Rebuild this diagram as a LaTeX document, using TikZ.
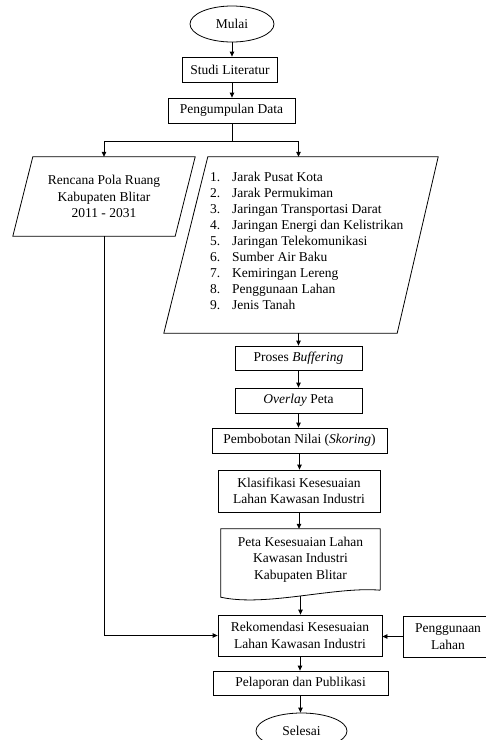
\documentclass[tikz,border=0pt]{standalone}
\usepackage{fontspec}
\setmainfont{Liberation Serif}
\usetikzlibrary{shapes.geometric,arrows.meta,calc}

\tikzstyle{kotak} = [rectangle, draw, line width=0.8pt, inner sep=2pt, align=center]
\tikzstyle{ujung} = [ellipse, draw, line width=0.8pt, inner sep=0pt]
\tikzstyle{bidang} = [rectangle, inner sep=2pt, align=center]
\tikzstyle{garis} = [line width=0.8pt]
\tikzstyle{panah} = [-{Triangle[length=5pt,width=4.5pt]}, line width=0.8pt]

\begin{document}
\begin{tikzpicture}[x=1pt,y=-1pt,font=\fontsize{13.5}{16.5}\selectfont]
\useasboundingbox (0,0) rectangle (486,740);
% alur utama
\node[ujung, minimum width=84pt, minimum height=36pt] (mulai) at (232,24) {Mulai};
\node[kotak, minimum width=95pt, minimum height=25pt] (studi) at (230,69.5) {Studi Literatur};
\node[kotak, minimum width=127pt, minimum height=25pt] (data) at (231.5,110.5) {Pengumpulan Data};
% data masukan
\node[bidang, minimum width=182pt, minimum height=79pt] (rencana) at (104,196.5) {Rencana Pola Ruang\\Kabupaten Blitar\\2011 - 2031};
\draw[garis] ($(rencana.north west)+(20,0)$) -- (rencana.north east) -- ($(rencana.south east)+(-20,0)$) -- (rencana.south west) -- cycle;
\node[bidang, minimum width=274pt, minimum height=176pt] (faktor) at (301,245) {};
\draw[garis] ($(faktor.north west)+(44,0)$) -- (faktor.north east) -- ($(faktor.south east)+(-41,0)$) -- (faktor.south west) -- cycle;
\node[anchor=west, align=left, inner sep=2pt, font=\fontsize{13.5}{16}\selectfont] (daftar) at (208,241) {%
\makebox[22pt][l]{1.}Jarak Pusat Kota\\
\makebox[22pt][l]{2.}Jarak Permukiman\\
\makebox[22pt][l]{3.}Jaringan Transportasi Darat\\
\makebox[22pt][l]{4.}Jaringan Energi dan Kelistrikan\\
\makebox[22pt][l]{5.}Jaringan Telekomunikasi\\
\makebox[22pt][l]{6.}Sumber Air Baku\\
\makebox[22pt][l]{7.}Kemiringan Lereng\\
\makebox[22pt][l]{8.}Penggunaan Lahan\\
\makebox[22pt][l]{9.}Jenis Tanah};
% proses
\node[kotak, minimum width=127pt, minimum height=24pt] (buffer) at (298.5,358) {Proses \textit{Buffering}};
\node[kotak, minimum width=127pt, minimum height=25pt] (overlay) at (298.5,400.5) {\textit{Overlay} Peta};
\node[kotak, minimum width=175pt, minimum height=25pt] (bobot) at (299.5,440.5) {Pembobotan Nilai (\textit{Skoring})};
\node[kotak, minimum width=162pt, minimum height=42pt] (klasif) at (299,491) {Klasifikasi Kesesuaian\\Lahan Kawasan Industri};
\node[bidang, minimum width=159pt, minimum height=61pt] (peta) at (300.5,559.5) {Peta Kesesuaian Lahan\\Kawasan Industri\\Kabupaten Blitar};
\draw[garis] (peta.south east) -- (peta.north east) -- (peta.north west) -- ($(peta.south west)+(0,7)$) .. controls +(45,10) and +(-45,-4) .. (peta.south east);
\coordinate (petabawah) at ($(peta.south)+(0,6)$);
\node[kotak, minimum width=164pt, minimum height=41pt] (rekom) at (300,635.5) {Rekomendasi Kesesuaian\\Lahan Kawasan Industri};
\node[kotak, minimum width=90pt, minimum height=41pt] (guna) at (448,636.5) {Penggunaan\\Lahan};
\node[kotak, minimum width=175pt, minimum height=24pt] (lapor) at (300.5,683) {Pelaporan dan Publikasi};
\node[ujung, minimum width=91pt, minimum height=36pt] (selesai) at (301.5,731) {Selesai};
% penghubung
\coordinate (cabang) at (data.south |- 0,141);
\draw[panah] (mulai.south) -- (mulai.south |- studi.north);
\draw[panah] (studi.south -| mulai.south) -- (data.north -| mulai.south);
\draw[garis] (data.south -| mulai.south) -- (cabang -| mulai.south);
\draw[panah] (cabang -| mulai.south) -| (rencana.north);
\draw[panah] (cabang -| mulai.south) -| (faktor.north -| buffer.north);
\draw[panah] (buffer.north |- faktor.south) -- (buffer.north);
\draw[panah] (buffer.south) -- (buffer.south |- overlay.north);
\draw[panah] (overlay.south) -- (overlay.south |- bobot.north);
\draw[panah] (bobot.south) -- (bobot.south |- klasif.north);
\draw[panah] (klasif.south) -- (klasif.south |- peta.north);
\draw[panah] (petabawah) -- (petabawah |- rekom.north);
\draw[panah] (rencana.south) |- (rekom.west);
\draw[panah] (guna.west) -- (rekom.east |- guna.west);
\draw[panah] (rekom.south) -- (rekom.south |- lapor.north);
\draw[panah] (lapor.south) -- (lapor.south |- selesai.north);
\end{tikzpicture}
\end{document}
